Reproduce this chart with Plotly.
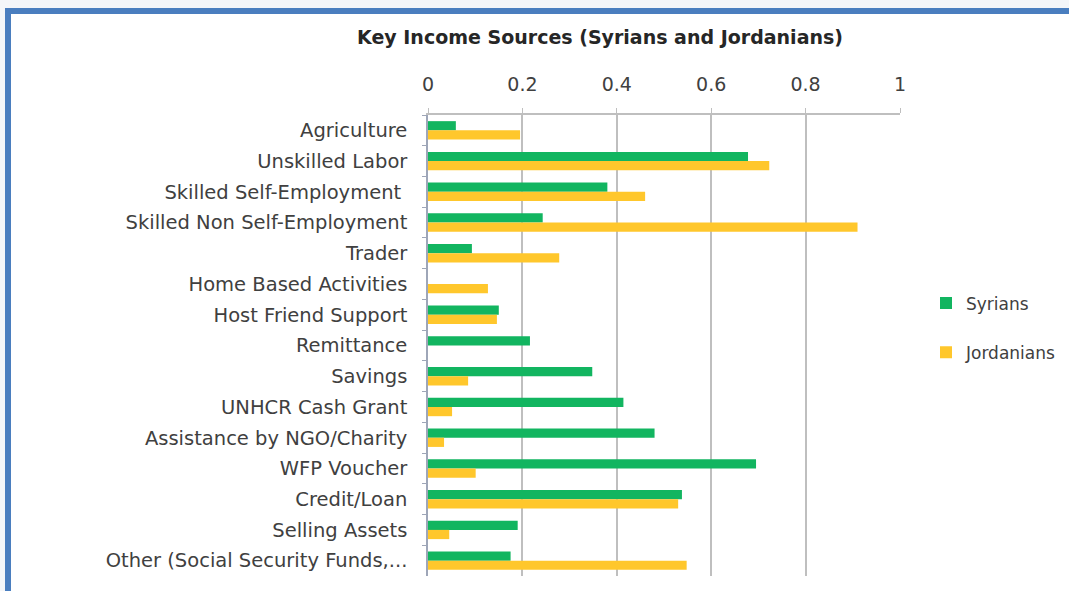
import plotly.graph_objects as go

categories = [
    "Agriculture", "Unskilled Labor", "Skilled Self-Employment ", "Skilled Non Self-Employment",
    "Trader", "Home Based Activities", "Host Friend Support", "Remittance", "Savings",
    "UNHCR Cash Grant", "Assistance by NGO/Charity", "WFP Voucher", "Credit/Loan",
    "Selling Assets", "Other (Social Security Funds,...",
]
syrians = [0.059, 0.678, 0.38, 0.243, 0.093, 0.0, 0.15, 0.216, 0.348, 0.414, 0.48, 0.695, 0.538, 0.19, 0.175]
jordanians = [0.195, 0.723, 0.46, 0.91, 0.278, 0.127, 0.146, 0.0, 0.085, 0.051, 0.034, 0.101, 0.53, 0.045, 0.548]
x_ticks = [0, 0.2, 0.4, 0.6, 0.8, 1]
x_tick_labels = ["0", "0.2", "0.4", "0.6", "0.8", "1"]

W, H = 1069, 591
L, R, T, B = 428, 169, 115, 15
pw, ph = W - L - R, H - T - B

def px(x):
    return (x - L) / pw

def py(y):
    return (H - B - y) / ph

FONT = "DejaVu Sans"
FS = 19.5
fig = go.Figure()
fig.add_trace(go.Bar(y=categories, x=syrians, name="Syrians", orientation="h",
                     marker=dict(color="#12B560", line=dict(width=0)), legendgroup="a"))
fig.add_trace(go.Bar(y=categories, x=jordanians, name="Jordanians", orientation="h",
                     marker=dict(color="#FFC72C", line=dict(width=0)), legendgroup="b"))

shapes = [
    dict(type="rect", xref="paper", yref="paper", x0=px(0), x1=px(W), y0=py(H), y1=py(0),
         fillcolor="#F4F6F9", line=dict(width=0), layer="below"),
    dict(type="rect", xref="paper", yref="paper", x0=px(5), x1=px(W), y0=py(H), y1=py(8),
         fillcolor="#4A7EBF", line=dict(width=0), layer="below"),
    dict(type="rect", xref="paper", yref="paper", x0=px(11), x1=px(W), y0=py(H), y1=py(14),
         fillcolor="white", line=dict(width=0), layer="below"),
]

fig.update_layout(
    width=W, height=H,
    margin=dict(l=L, r=R, t=T, b=B, autoexpand=False),
    paper_bgcolor="white", plot_bgcolor="white",
    barmode="group", bargap=0.4, bargroupgap=0.0,
    font=dict(family=FONT, size=FS, color="#404040"),
    title=dict(text="<b>Key Income Sources (Syrians and Jordanians)</b>",
               x=600 / W, xref="container", xanchor="center",
               y=1 - 37 / H, yref="container", yanchor="middle",
               font=dict(family=FONT, size=19, color="#262626")),
    xaxis=dict(side="top", range=[0, 1], tickvals=x_ticks, ticktext=x_tick_labels,
               showgrid=True, gridcolor="#BFBFBF", gridwidth=1.5,
               showline=True, linecolor="#BFBFBF", linewidth=1.5,
               ticks="outside", ticklen=5, tickcolor="#BFBFBF", ticklabelstandoff=10,
               tickfont=dict(size=19, color="#404040"), zeroline=False, fixedrange=True,
               automargin=False),
    yaxis=dict(autorange="reversed", showline=True, linecolor="#9EA6B8", linewidth=1.5,
               ticks="outside", ticklen=4, tickcolor="#9EA6B8", tickson="boundaries",
               ticklabelstandoff=15, automargin=False,
               tickfont=dict(size=FS, color="#404040"), showgrid=False),
    legend=dict(x=px(926), y=py(328), xanchor="left", yanchor="middle",
                font=dict(size=17, color="#404040"), tracegroupgap=24,
                itemwidth=30, bgcolor="rgba(0,0,0,0)"),
    shapes=shapes,
    showlegend=True,
)

fig.write_html("out.html", config={"displayModeBar": False},
               post_script="document.body.style.margin='0px';document.body.style.overflow='hidden';")
